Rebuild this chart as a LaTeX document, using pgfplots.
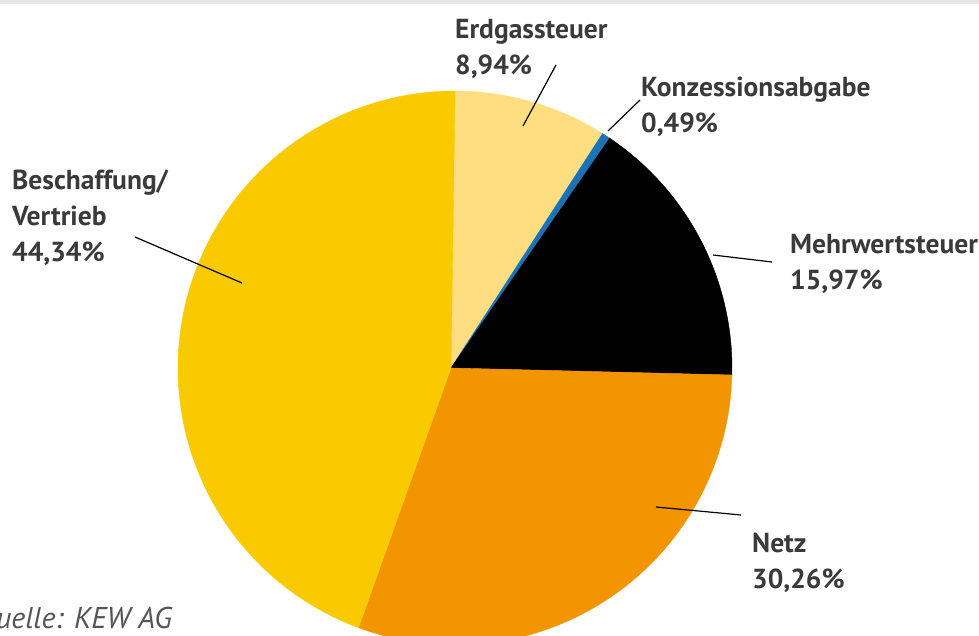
\documentclass[border=0pt]{standalone}
\usepackage{fontspec}
\setmainfont{PT Sans}
\usepackage{pgfplots}
\pgfplotsset{compat=1.18}
\definecolor{cBesch}{HTML}{FACA00}
\definecolor{cErdgas}{HTML}{FEDE80}
\definecolor{cKonz}{HTML}{1A72B8}
\definecolor{cMwst}{HTML}{000000}
\definecolor{cNetz}{HTML}{F39500}
\definecolor{txt}{HTML}{3A3A3A}
\definecolor{src}{HTML}{555555}
\definecolor{band}{HTML}{E6E6E6}
% shares in percent
\def\pErdgas{8.94}
\def\pKonz{0.49}
\def\pMwst{15.97}
\def\pNetz{30.26}
\def\pBesch{44.34}
\pgfmathsetmacro\aA{90}
\pgfmathsetmacro\aB{\aA-3.6*\pErdgas}
\pgfmathsetmacro\aC{\aB-3.6*\pKonz}
\pgfmathsetmacro\aD{\aC-3.6*\pMwst}
\pgfmathsetmacro\aE{\aD-3.6*\pNetz}
\pgfmathsetmacro\aF{\aE-3.6*\pBesch}
\def\cx{455}\def\cy{267}\def\R{277}\def\vx{451}
\begin{document}
\begin{tikzpicture}[x=1pt,y=1pt]
\useasboundingbox (0,0) rectangle (979,635);
\begin{axis}[at={(0,0)}, anchor=south west, scale only axis,
  width=979pt, height=635pt, xmin=0, xmax=979, ymin=0, ymax=635,
  hide axis, clip=true]
\addplot[fill=cErdgas, draw=cErdgas, line width=0.4pt, domain=\aB:\aA, samples=40, variable=\t]
  ({\cx+\R*cos(\t)},{\cy+\R*sin(\t)}) -- (axis cs:\vx,\cy) -- cycle;
\addplot[fill=cKonz, draw=cKonz, line width=0.4pt, domain=\aC:\aB, samples=5, variable=\t]
  ({\cx+\R*cos(\t)},{\cy+\R*sin(\t)}) -- (axis cs:\vx,\cy) -- cycle;
\addplot[fill=cMwst, draw=cMwst, line width=0.4pt, domain=\aD:\aC, samples=60, variable=\t]
  ({\cx+\R*cos(\t)},{\cy+\R*sin(\t)}) -- (axis cs:\vx,\cy) -- cycle;
\addplot[fill=cNetz, draw=cNetz, line width=0.4pt, domain=\aE:\aD, samples=100, variable=\t]
  ({\cx+\R*cos(\t)},{\cy+\R*sin(\t)}) -- (axis cs:\vx,\cy) -- cycle;
\addplot[fill=cBesch, draw=cBesch, line width=0.4pt, domain=\aF:\aE, samples=140, variable=\t]
  ({\cx+\R*cos(\t)},{\cy+\R*sin(\t)}) -- (axis cs:\vx,\cy) -- cycle;
% leader lines
\draw[black, line width=1.2pt] (axis cs:556,570) -- (axis cs:523,509);
\draw[black, line width=1.2pt] (axis cs:640,535) -- (axis cs:608,504);
\draw[black, line width=1.2pt] (axis cs:772,373) -- (axis cs:713,380);
\draw[black, line width=1.2pt] (axis cs:741,120) -- (axis cs:656,128);
\draw[black, line width=1.2pt] (axis cs:135,398) -- (axis cs:242,352);
% labels (anchor = baseline of last line)
\tikzset{lab/.style={anchor=base west, align=left, inner sep=0pt, text=txt,
  font=\fontsize{27.5}{36}\selectfont\bfseries}}
\node[lab] at (axis cs:455,560) {Erdgassteuer\\8,94\%};
\node[lab] at (axis cs:641,502) {Konzessionsabgabe\\0,49\%};
\node[lab] at (axis cs:790,345) {Mehrwertsteuer\\15,97\%};
\node[lab] at (axis cs:752,47) {Netz\\30,26\%};
\node[lab] at (axis cs:12,373) {Beschaffung/\\Vertrieb\\44,34\%};
\node[anchor=base east, inner sep=0pt, text=src, font=\fontsize{30}{34}\selectfont\itshape] at (axis cs:172,7) {Quelle: KEW AG};
\fill[band] (axis cs:0,631) rectangle (axis cs:979,635);
\end{axis}
\end{tikzpicture}
\end{document}
